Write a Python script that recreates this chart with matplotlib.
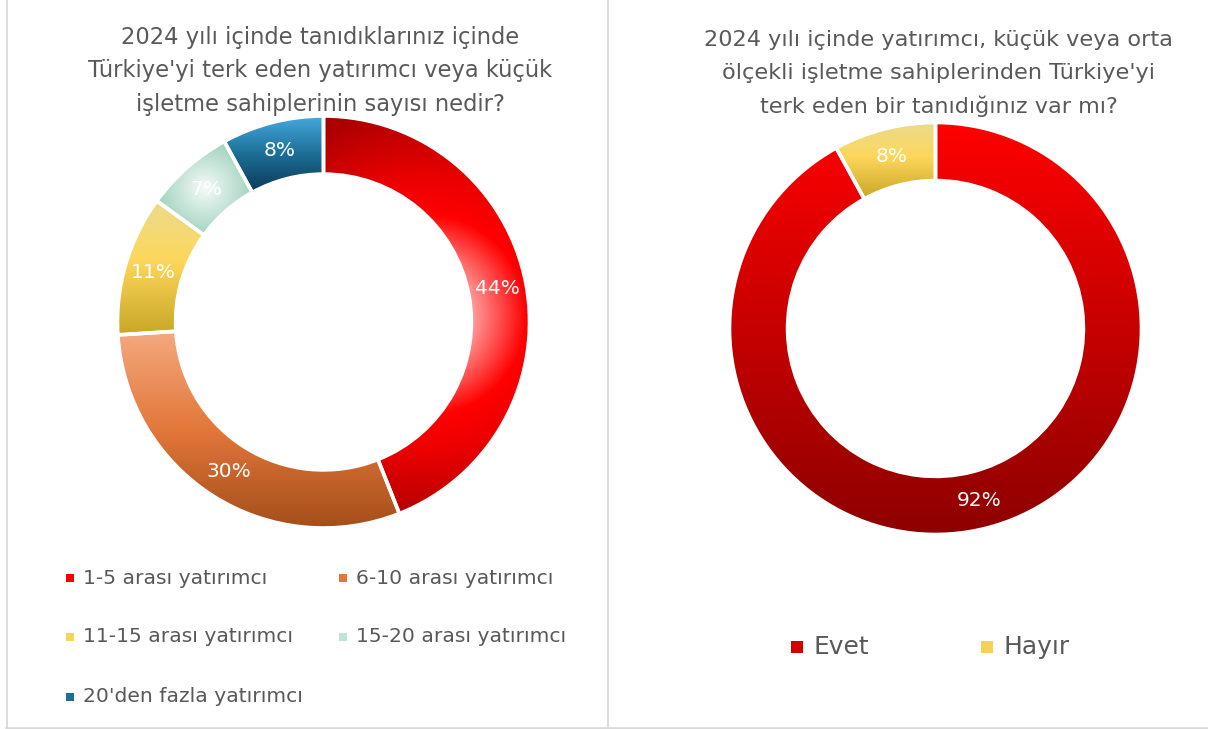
import numpy as np
import matplotlib
matplotlib.use("Agg")
import matplotlib.pyplot as plt
from matplotlib.colors import LinearSegmentedColormap
from matplotlib.patches import Rectangle

plt.rcParams["font.family"] = ["DejaVu Sans"]

W, H = 1208, 729
TEXT_GRAY = "#595959"

# ---- data -------------------------------------------------------------
left_title = ["2024 yılı içinde tanıdıklarınız içinde",
              "Türkiye'yi terk eden yatırımcı veya küçük",
              "işletme sahiplerinin sayısı nedir?"]
right_title = ["2024 yılı içinde yatırımcı, küçük veya orta",
               "ölçekli işletme sahiplerinden Türkiye'yi",
               "terk eden bir tanıdığınız var mı?"]

left_categories = ["1-5 arası yatırımcı", "6-10 arası yatırımcı",
                   "11-15 arası yatırımcı", "15-20 arası yatırımcı",
                   "20'den fazla yatırımcı"]
left_values = [44, 30, 11, 7, 8]

right_categories = ["Evet", "Hayır"]
right_values = [92, 8]

# ---- fills (gradient kind + colour stops) ----------------------------
yellow_stops = [(0, "#ebdb8e"), (0.45, "#fdd75b"), (1, "#c8a626")]
left_fills = [
    ("radial", [(0, "#ffe4e4"), (0.2, "#ffa0a0"), (0.45, "#ff0000"),
                (0.6, "#ee0000"), (1, "#a00000")]),
    ("linear", [(0, "#f4a97f"), (0.5, "#e2773a"), (1, "#a54e1b")]),
    ("linear", yellow_stops),
    ("radial", [(0, "#f4fbf8"), (1, "#80c1a9")]),
    ("linear", [(0, "#45abde"), (0.5, "#1d6f98"), (1, "#0c3955")]),
]
right_fills = [
    ("linear", [(0, "#ff0000"), (1, "#8e0000")]),
    ("linear", yellow_stops),
]


def gradient_fill(ax, wedge, kind, stops):
    cmap = LinearSegmentedColormap.from_list("fill", stops)
    ext = wedge.get_path().get_extents()
    x0, y0, x1, y1 = ext.x0, ext.y0, ext.x1, ext.y1
    n = 400
    xs = np.linspace(x0, x1, n)
    ys = np.linspace(y1, y0, n)
    X, Y = np.meshgrid(xs, ys)
    if kind == "linear":
        T = (y1 - Y) / (y1 - y0)
    else:
        cx, cy = (x0 + x1) / 2, (y0 + y1) / 2
        T = np.hypot(X - cx, Y - cy) / np.hypot((x1 - x0) / 2, (y1 - y0) / 2)
    im = ax.imshow(T, cmap=cmap, vmin=0, vmax=1, extent=(x0, x1, y0, y1),
                   origin="upper", interpolation="bilinear", aspect="auto",
                   zorder=1)
    im.set_clip_path(wedge)


def donut(cx, cy, radius, values, fills):
    ax = fig.add_axes([(cx - radius) / W, (H - cy - radius) / H,
                       2 * radius / W, 2 * radius / H])
    wedges, _, autotexts = ax.pie(
        values, startangle=90, counterclock=False, radius=1,
        colors=["none"] * len(values),
        autopct=lambda p: f"{p:.0f}%", pctdistance=0.86,
        wedgeprops=dict(width=0.282, edgecolor="white", linewidth=2.6),
        textprops=dict(color="white", fontsize=14.5))
    for w, (kind, stops) in zip(wedges, fills):
        w.set_zorder(3)
        gradient_fill(ax, w, kind, stops)
    for t in autotexts:
        t.set_zorder(5)
    ax.set_xlim(-1, 1)
    ax.set_ylim(-1, 1)
    ax.set_axis_off()
    return ax


fig = plt.figure(figsize=(W / 100, H / 100), dpi=100)
fig.patch.set_facecolor("white")

base = fig.add_axes([0, 0, 1, 1])
base.set_xlim(0, W)
base.set_ylim(H, 0)
base.set_axis_off()

# panel borders
border = "#d9d9d9"
base.plot([6.5, 6.5], [0, 727], color=border, lw=1.3)
base.plot([607.5, 607.5], [0, 727], color=border, lw=1.3)
base.plot([6, W], [727.5, 727.5], color=border, lw=1.8)

# titles
for i, line in enumerate(left_title):
    base.text(320.5, 37 + 33.5 * i, line, ha="center", va="center",
              fontsize=16.3, color=TEXT_GRAY)
for i, line in enumerate(right_title):
    base.text(938.5, 40 + 33 * i, line, ha="center", va="center",
              fontsize=16.1, color=TEXT_GRAY)

donut(323.5, 322, 206, left_values, left_fills)
donut(935.5, 328.5, 206, right_values, right_fills)

# legends
left_swatch = ["#f40000", "#e2773a", "#f7d35a", "#bfe3d5", "#1d6f98"]
left_pos = [(66, 578), (339, 578), (66, 637), (339, 637), (66, 697)]
for (x, y), lab, col in zip(left_pos, left_categories, left_swatch):
    base.add_patch(Rectangle((x, y - 4), 8, 8, facecolor=col, edgecolor="none"))
    base.text(x + 17, y, lab, ha="left", va="center", fontsize=14.6,
              color=TEXT_GRAY)

right_swatch = ["#d40000", "#f5d257"]
right_pos = [(791, 647), (981, 647)]
for (x, y), lab, col in zip(right_pos, right_categories, right_swatch):
    base.add_patch(Rectangle((x, y - 6), 12, 12, facecolor=col, edgecolor="none"))
    base.text(x + 22, y, lab, ha="left", va="center", fontsize=17.9,
              color=TEXT_GRAY)

fig.savefig("out.png", dpi=100)
